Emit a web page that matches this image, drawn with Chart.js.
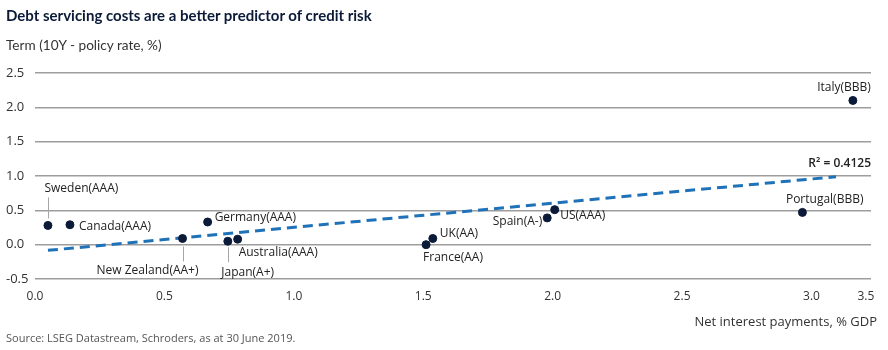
<!DOCTYPE html>
<html>
<head>
<meta charset="utf-8">
<script src="https://cdn.jsdelivr.net/npm/chart.js@4"></script>
<style>
  html, body { margin: 0; padding: 0; background: #ffffff; }
  body { width: 888px; height: 350px; position: relative; overflow: hidden; }
  #chart { position: absolute; left: 0; top: 0; }
  .txt { position: absolute; white-space: nowrap; }
  #title { left: 6px; top: 6px; font: 700 15px Lato, sans-serif; color: #0b1a38; line-height: 19px; }
  #subtitle { left: 6px; top: 37px; font: 400 13.6px Lato, sans-serif; color: #333333; line-height: 16px; }
  #xtitle { right: 11px; top: 312px; font: 400 13px "Open Sans", sans-serif; color: #333333; line-height: 18px; }
  #source { left: 6px; top: 330px; font: 400 11px "Open Sans", sans-serif; color: #555555; line-height: 15px; }
</style>
</head>
<body>
<canvas id="chart" width="888" height="350"></canvas>
<div class="txt" id="title">Debt servicing costs are a better predictor of credit risk</div>
<div class="txt" id="subtitle">Term (10Y - policy rate, %)</div>
<div class="txt" id="xtitle">Net interest payments, % GDP</div>
<div class="txt" id="source">Source: LSEG Datastream, Schroders, as at 30 June 2019.</div>
<script>
// ---- Data ----
const COUNTRIES = ['Sweden(AAA)', 'Canada(AAA)', 'New Zealand(AA+)', 'Germany(AAA)', 'Japan(A+)', 'Australia(AAA)',
                   'France(AA)', 'UK(AA)', 'Spain(A-)', 'US(AAA)', 'Portugal(BBB)', 'Italy(BBB)'];
const NET_INTEREST = [0.05, 0.135, 0.57, 0.667, 0.745, 0.783, 1.511, 1.537, 1.979, 2.008, 2.965, 3.16];
const TERM_SPREAD  = [0.28, 0.29, 0.09, 0.33, 0.05, 0.08, 0.0, 0.09, 0.39, 0.51, 0.47, 2.10];
const TREND_X = [0.05, 3.095];
const TREND_Y = [-0.083, 0.99];
const R2_TEXT = 'R\u00B2 = 0.4125';
const X_TICK_VALUES = [0, 0.5, 1.0, 1.5, 2.0, 2.5, 3.0, 3.21];
const X_TICK_LABELS = ['0.0', '0.5', '1.0', '1.5', '2.0', '2.5', '3.0', '3.5'];
const Y_TICK_LABELS = ['-0.5', '0.0', '0.5', '1.0', '1.5', '2.0', '2.5'];

// ---- Label placement (offsets in px from the point) ----
const LABEL_LAYOUT = {
  'Sweden(AAA)':      { align: 'left',   dx: -3.5, dy: -37, lead: [-28, -7] },
  'Canada(AAA)':      { align: 'left',   dx: 9,    dy: 2 },
  'New Zealand(AA+)': { align: 'center', dx: -35,  dy: 32,  lead: [8, 23] },
  'Germany(AAA)':     { align: 'left',   dx: 7,    dy: -4 },
  'Japan(A+)':        { align: 'left',   dx: -6.5, dy: 31,  lead: [6, 21] },
  'Australia(AAA)':   { align: 'left',   dx: 1,    dy: 13 },
  'France(AA)':       { align: 'left',   dx: -3,   dy: 13 },
  'UK(AA)':           { align: 'left',   dx: 7,    dy: -5 },
  'Spain(A-)':        { align: 'right',  dx: -5,   dy: 3.5 },
  'US(AAA)':          { align: 'left',   dx: 5.5,  dy: 6 },
  'Portugal(BBB)':    { align: 'left',   dx: -16.5, dy: -13 },
  'Italy(BBB)':       { align: 'right',  dx: 18,   dy: -13 }
};

const pointData = NET_INTEREST.map((x, i) => ({ x: x, y: TERM_SPREAD[i] }));
const trendData = TREND_X.map((x, i) => ({ x: x, y: TREND_Y[i] }));

const labelPlugin = {
  id: 'pointLabels',
  afterDatasetsDraw(chart) {
    const ctx = chart.ctx;
    const meta = chart.getDatasetMeta(1);
    ctx.save();
    ctx.font = '400 12px "Open Sans", sans-serif';
    ctx.textBaseline = 'middle';
    meta.data.forEach((pt, i) => {
      const name = COUNTRIES[i];
      const L = LABEL_LAYOUT[name];
      if (L.lead) {
        ctx.strokeStyle = '#a6a6a6';
        ctx.lineWidth = 1;
        ctx.beginPath();
        ctx.moveTo(Math.round(pt.x) + 0.5, pt.y + L.lead[0]);
        ctx.lineTo(Math.round(pt.x) + 0.5, pt.y + L.lead[1]);
        ctx.stroke();
      }
      ctx.fillStyle = '#222222';
      ctx.textAlign = L.align;
      ctx.fillText(name, pt.x + L.dx, pt.y + L.dy);
    });
    // R² label near the end of the trend line
    const tm = chart.getDatasetMeta(0);
    const end = tm.data[tm.data.length - 1];
    ctx.font = '600 12px "Open Sans", sans-serif';
    ctx.textAlign = 'right';
    ctx.fillStyle = '#222222';
    ctx.fillText(R2_TEXT, end.x + 35, end.y - 13.5);
    ctx.restore();
  }
};

function build() {
  new Chart(document.getElementById('chart'), {
    data: {
      datasets: [
        {
          type: 'line',
          label: 'Trend',
          data: trendData,
          borderColor: '#1f72b8',
          borderWidth: 3,
          borderDash: [10, 6],
          pointRadius: 0,
          fill: false,
          order: 2
        },
        {
          type: 'scatter',
          label: 'Countries',
          data: pointData,
          backgroundColor: '#0b1a38',
          borderColor: '#0b1a38',
          pointRadius: 4,
          pointHoverRadius: 4,
          order: 1
        }
      ]
    },
    options: {
      responsive: false,
      devicePixelRatio: 1,
      animation: false,
      events: [],
      layout: { padding: { left: 6, top: 73, right: 17, bottom: 0 } },
      plugins: { legend: { display: false }, tooltip: { enabled: false }, title: { display: false } },
      scales: {
        x: {
          type: 'linear',
          min: 0,
          max: 3.23,
          grid: { display: false, drawTicks: false },
          border: { display: false },
          afterBuildTicks(scale) { scale.ticks = X_TICK_VALUES.map(v => ({ value: v })); },
          afterFit(scale) { scale.height = 71; },
          ticks: {
            autoSkip: false,
            maxRotation: 0,
            padding: 10,
            color: '#333333',
            font: { family: '"Open Sans", sans-serif', size: 12 },
            callback: (v, i) => X_TICK_LABELS[i]
          }
        },
        y: {
          type: 'linear',
          min: -0.5,
          max: 2.5,
          grid: { color: '#9d9d9d', lineWidth: 1.5, drawTicks: false },
          border: { display: false },
          afterFit(scale) { scale.width = 29; },
          ticks: {
            stepSize: 0.5,
            crossAlign: 'far',
            color: '#333333',
            font: { family: '"Open Sans", sans-serif', size: 13 },
            callback: (v, i) => Y_TICK_LABELS[i]
          }
        }
      }
    },
    plugins: [labelPlugin]
  });
}

Promise.all([
  document.fonts.load('400 12px "Open Sans"'),
  document.fonts.load('600 12px "Open Sans"'),
  document.fonts.load('700 15px Lato')
]).then(build, build);
</script>
</body>
</html>
